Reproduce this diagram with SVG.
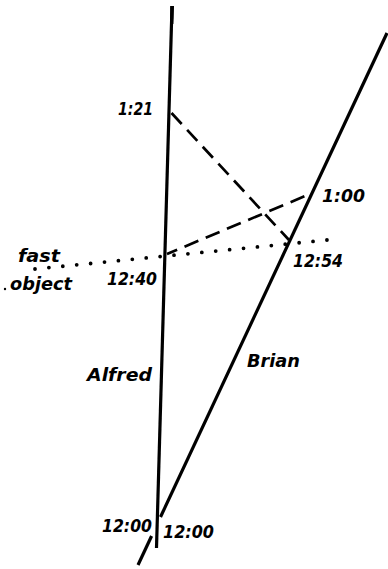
<svg xmlns="http://www.w3.org/2000/svg" width="388" height="569" viewBox="0 0 388 569">
<style>
.wl{stroke:#000;stroke-width:3.2;fill:none;stroke-linecap:butt}
.sig{stroke:#000;stroke-width:2.7;fill:none;stroke-dasharray:15 8}
.dot{stroke:#000;stroke-width:3.8;fill:none;stroke-linecap:round;stroke-dasharray:0 13.97}
text{font-family:"DejaVu Sans","Liberation Sans",sans-serif;font-weight:bold;font-style:italic;font-size:17px;fill:#000}
</style>
<rect width="388" height="569" fill="#fff"/>
<g id="connectors">
<path class="sig" d="M171.5,113 L289,240"/>
<path class="sig" d="M167,254 L310,194" stroke-dashoffset="4"/>
<path class="dot" d="M35,269 L327,240"/>
</g>
<g id="alfred">
<path class="wl" d="M172,6 L156.5,548"/>
<path d="M170.3,6 L174,6 L173.4,24 L170.1,24 Z" fill="#000"/>
<text x="87" y="381" textLength="65" lengthAdjust="spacingAndGlyphs">Alfred</text>
</g>
<g id="brian">
<path class="wl" d="M138,565 L151.6,536"/>
<path class="wl" d="M160.5,517 L387,33"/>
<text x="247" y="367" textLength="53" lengthAdjust="spacingAndGlyphs">Brian</text>
</g>
<g id="event-1-21"><text x="118" y="115" font-size="15" textLength="35" lengthAdjust="spacingAndGlyphs">1:21</text></g>
<g id="event-1-00"><text x="322" y="202" textLength="43" lengthAdjust="spacingAndGlyphs">1:00</text></g>
<g id="event-12-54"><text x="293" y="267" textLength="50" lengthAdjust="spacingAndGlyphs">12:54</text></g>
<g id="event-12-40"><text x="107" y="285" textLength="50" lengthAdjust="spacingAndGlyphs">12:40</text></g>
<g id="event-12-00-a"><text x="102" y="532" textLength="50" lengthAdjust="spacingAndGlyphs">12:00</text></g>
<g id="event-12-00-b"><text x="163" y="538" textLength="51" lengthAdjust="spacingAndGlyphs">12:00</text></g>
<g id="fast-object">
<text x="18" y="262" textLength="42" lengthAdjust="spacingAndGlyphs">fast</text>
<circle cx="5" cy="289" r="1.2" fill="#000"/>
<text x="10" y="290" textLength="62" lengthAdjust="spacingAndGlyphs">object</text>
</g>
</svg>
